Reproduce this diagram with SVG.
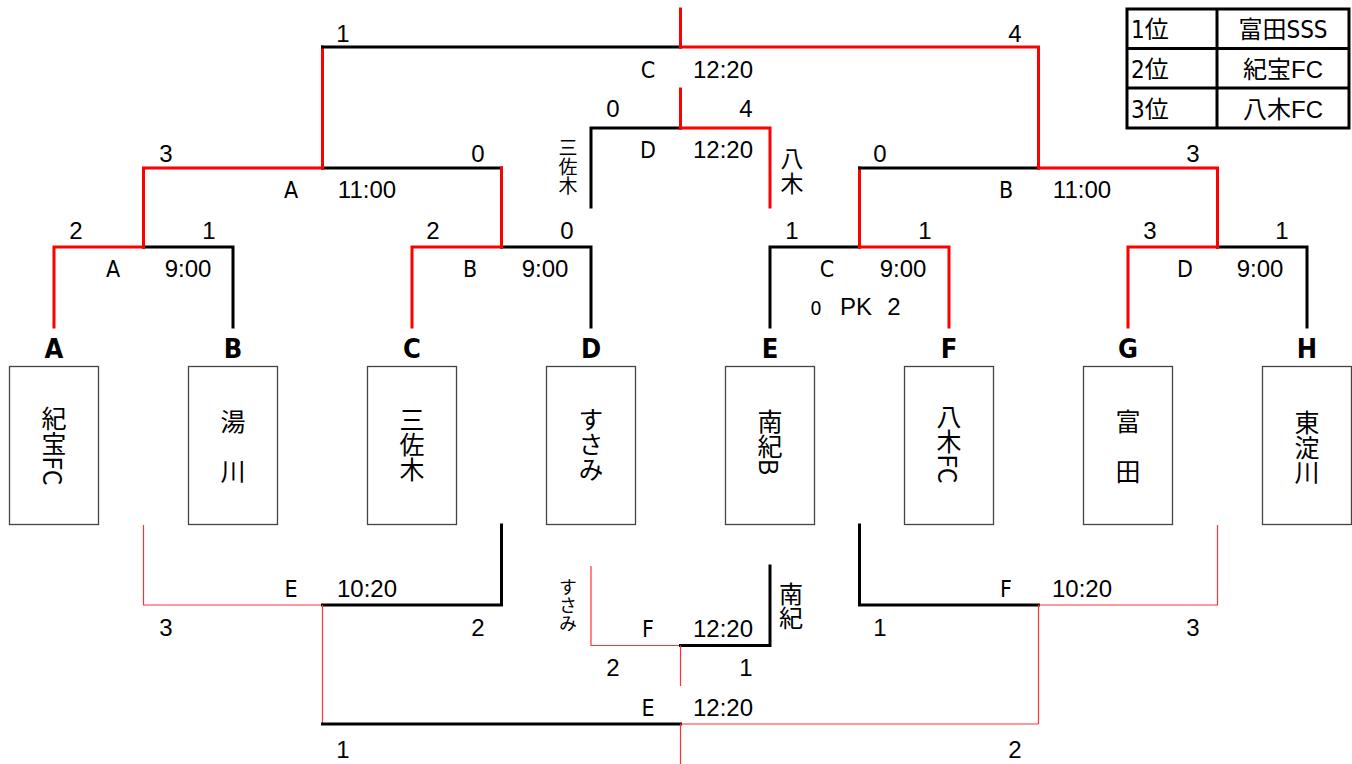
<svg xmlns="http://www.w3.org/2000/svg" width="1352" height="764" viewBox="0 0 1352 764">
<style>
.bk{stroke:#000;stroke-width:3;fill:none;stroke-linecap:square}
.rd{stroke:#f00;stroke-width:3;fill:none;stroke-linecap:square}
.tr{stroke:#f33;stroke-width:1.2;fill:none}
.n{font-family:"Liberation Sans",Arial,sans-serif;font-size:24px;fill:#000;text-anchor:middle}
.l{font-family:"DejaVu Sans Condensed","DejaVu Sans",sans-serif;font-size:23px;fill:#000;text-anchor:middle}
.tl{font-family:"DejaVu Sans Condensed","DejaVu Sans",sans-serif;font-size:27px;font-weight:bold;fill:#000;text-anchor:middle}
.box{fill:#fff;stroke:#444;stroke-width:1.3}
.bt{font-family:"Noto Sans CJK JP",sans-serif;font-size:25px;fill:#000;text-anchor:middle;writing-mode:vertical-rl}
.sv{font-family:"Noto Sans CJK JP",sans-serif;fill:#000;text-anchor:middle;writing-mode:vertical-rl}
.lg{font-family:"DejaVu Sans Condensed","Noto Sans CJK JP",sans-serif;font-size:24px;fill:#000}
.lg2{font-family:"Liberation Sans","Noto Sans CJK JP",sans-serif;font-size:24px;fill:#000;text-anchor:middle}
</style>

<g id="connectors">
<!-- Round 1 -->
<path class="rd" d="M54,327 V247 H143.5"/>
<path class="bk" d="M143.5,247 H233 V327"/>
<path class="rd" d="M412,327 V247 H501.5"/>
<path class="bk" d="M501.5,247 H591 V327"/>
<path class="bk" d="M770,327 V247 H859.5"/>
<path class="rd" d="M859.5,247 H949 V327"/>
<path class="rd" d="M1128,327 V247 H1217.5"/>
<path class="bk" d="M1217.5,247 H1307 V327"/>
<!-- Round 2 -->
<path class="rd" d="M143.5,247 V168 H322.5"/>
<path class="bk" d="M322.5,168 H501.5"/>
<path class="rd" d="M501.5,168 V247"/>
<path class="rd" d="M859.5,247 V168"/>
<path class="bk" d="M859.5,168 H1038.5"/>
<path class="rd" d="M1038.5,168 H1217.5 V247"/>
<!-- Final -->
<path class="rd" d="M322.5,168 V47"/>
<path class="bk" d="M322.5,47 H680.5"/>
<path class="rd" d="M680.5,47 H1038.5 V168"/>
<path class="rd" d="M680.5,9 V47"/>
<!-- 3rd place -->
<path class="bk" d="M591,207 V128 H680.5"/>
<path class="rd" d="M680.5,128 H770 V207"/>
<path class="rd" d="M680.5,89 V128"/>
<!-- Lower bracket -->
<path class="tr" d="M143.5,525 V605 H322.5"/>
<path class="bk" d="M322.5,605 H501.5 V525"/>
<path class="tr" d="M322.5,605 V724"/>
<path class="bk" d="M859.5,525 V605 H1038.5"/>
<path class="tr" d="M1038.5,605 H1217.5 V525"/>
<path class="tr" d="M1038.5,605 V724"/>
<path class="tr" d="M591,566 V645.5 H680.5"/>
<path class="bk" d="M680.5,645.5 H770 V566"/>
<path class="tr" d="M680.5,645.5 V686"/>
<path class="bk" d="M322.5,724 H680.5"/>
<path class="tr" d="M680.5,724 H1038.5"/>
<path class="tr" d="M680.5,724 V764"/>
</g>

<g id="labels">
<text class="n" x="343" y="42">1</text>
<text class="n" x="1015" y="42">4</text>
<text class="l" x="648" y="78">C</text>
<text class="n" x="723" y="78">12:20</text>

<text class="n" x="166" y="162">3</text>
<text class="n" x="478" y="162">0</text>
<text class="l" x="291" y="198">A</text>
<text class="n" x="367" y="198">11:00</text>
<text class="n" x="880" y="162">0</text>
<text class="n" x="1193" y="162">3</text>
<text class="l" x="1006" y="198">B</text>
<text class="n" x="1082" y="198">11:00</text>

<text class="n" x="76" y="239">2</text>
<text class="n" x="209" y="239">1</text>
<text class="l" x="113" y="277">A</text>
<text class="n" x="188" y="277">9:00</text>
<text class="n" x="433" y="239">2</text>
<text class="n" x="567" y="239">0</text>
<text class="l" x="470" y="277">B</text>
<text class="n" x="545" y="277">9:00</text>
<text class="n" x="792" y="239">1</text>
<text class="n" x="925" y="239">1</text>
<text class="l" x="827" y="277">C</text>
<text class="n" x="903" y="277">9:00</text>
<text class="l" x="816" y="315" style="font-size:20px">0</text>
<text class="n" x="856" y="315">PK</text>
<text class="n" x="894" y="315">2</text>
<text class="n" x="1150" y="239">3</text>
<text class="n" x="1282" y="239">1</text>
<text class="l" x="1185" y="277">D</text>
<text class="n" x="1260" y="277">9:00</text>

<text class="n" x="613" y="117">0</text>
<text class="n" x="746" y="117">4</text>
<text class="l" x="648" y="158">D</text>
<text class="n" x="723" y="158">12:20</text>
<text class="sv" x="568" y="167" style="font-size:19px">三佐木</text>
<text class="sv" x="792" y="172" style="font-size:23px;letter-spacing:2px">八木</text>

<text class="l" x="291" y="597">E</text>
<text class="n" x="367" y="597">10:20</text>
<text class="n" x="166" y="636">3</text>
<text class="n" x="478" y="636">2</text>
<text class="l" x="1006" y="597">F</text>
<text class="n" x="1082" y="597">10:20</text>
<text class="n" x="880" y="636">1</text>
<text class="n" x="1193" y="636">3</text>

<text class="l" x="648" y="637">F</text>
<text class="n" x="723" y="637">12:20</text>
<text class="n" x="613" y="676">2</text>
<text class="n" x="746" y="676">1</text>
<text class="sv" x="568" y="605" style="font-size:18px">すさみ</text>
<text class="sv" x="791" y="606" style="font-size:24px">南紀</text>

<text class="l" x="648" y="716">E</text>
<text class="n" x="723" y="716">12:20</text>
<text class="n" x="343" y="758">1</text>
<text class="n" x="1015" y="758">2</text>
</g>

<g id="team-A"><text class="tl" x="54" y="358">A</text><rect class="box" x="9.5" y="366.5" width="89" height="158"/><text class="bt" x="54" y="446">紀宝FC</text></g>
<g id="team-B"><text class="tl" x="233" y="358">B</text><rect class="box" x="188.5" y="366.5" width="89" height="158"/><text class="bt" x="233" y="446">湯　川</text></g>
<g id="team-C"><text class="tl" x="412" y="358">C</text><rect class="box" x="367.5" y="366.5" width="89" height="158"/><text class="bt" x="412" y="444">三佐木</text></g>
<g id="team-D"><text class="tl" x="591" y="358">D</text><rect class="box" x="546.5" y="366.5" width="89" height="158"/><text class="bt" x="591" y="444">すさみ</text></g>
<g id="team-E"><text class="tl" x="770" y="358">E</text><rect class="box" x="725.5" y="366.5" width="89" height="158"/><text class="bt" x="770" y="442">南紀B</text></g>
<g id="team-F"><text class="tl" x="949" y="358">F</text><rect class="box" x="904.5" y="366.5" width="89" height="158"/><text class="bt" x="949" y="444">八木FC</text></g>
<g id="team-G"><text class="tl" x="1128" y="358">G</text><rect class="box" x="1083.5" y="366.5" width="89" height="158"/><text class="bt" x="1128" y="446">富　田</text></g>
<g id="team-H"><text class="tl" x="1307" y="358">H</text><rect class="box" x="1262.5" y="366.5" width="89" height="158"/><text class="bt" x="1307" y="447">東淀川</text></g>

<g id="legend">
<rect x="1127" y="9" width="222" height="119" fill="#fff" stroke="#000" stroke-width="3"/>
<line x1="1217" y1="9" x2="1217" y2="128" stroke="#000" stroke-width="3"/>
<line x1="1127" y1="48.5" x2="1349" y2="48.5" stroke="#000" stroke-width="3"/>
<line x1="1127" y1="88" x2="1349" y2="88" stroke="#000" stroke-width="3"/>
<text class="lg" x="1131" y="38">1位</text>
<text class="lg" x="1131" y="78">2位</text>
<text class="lg" x="1131" y="118">3位</text>
<text class="lg" x="1283" y="38" style="text-anchor:middle">富田SSS</text>
<text class="lg2" x="1283" y="78">紀宝FC</text>
<text class="lg2" x="1283" y="118">八木FC</text>
</g>
</svg>
